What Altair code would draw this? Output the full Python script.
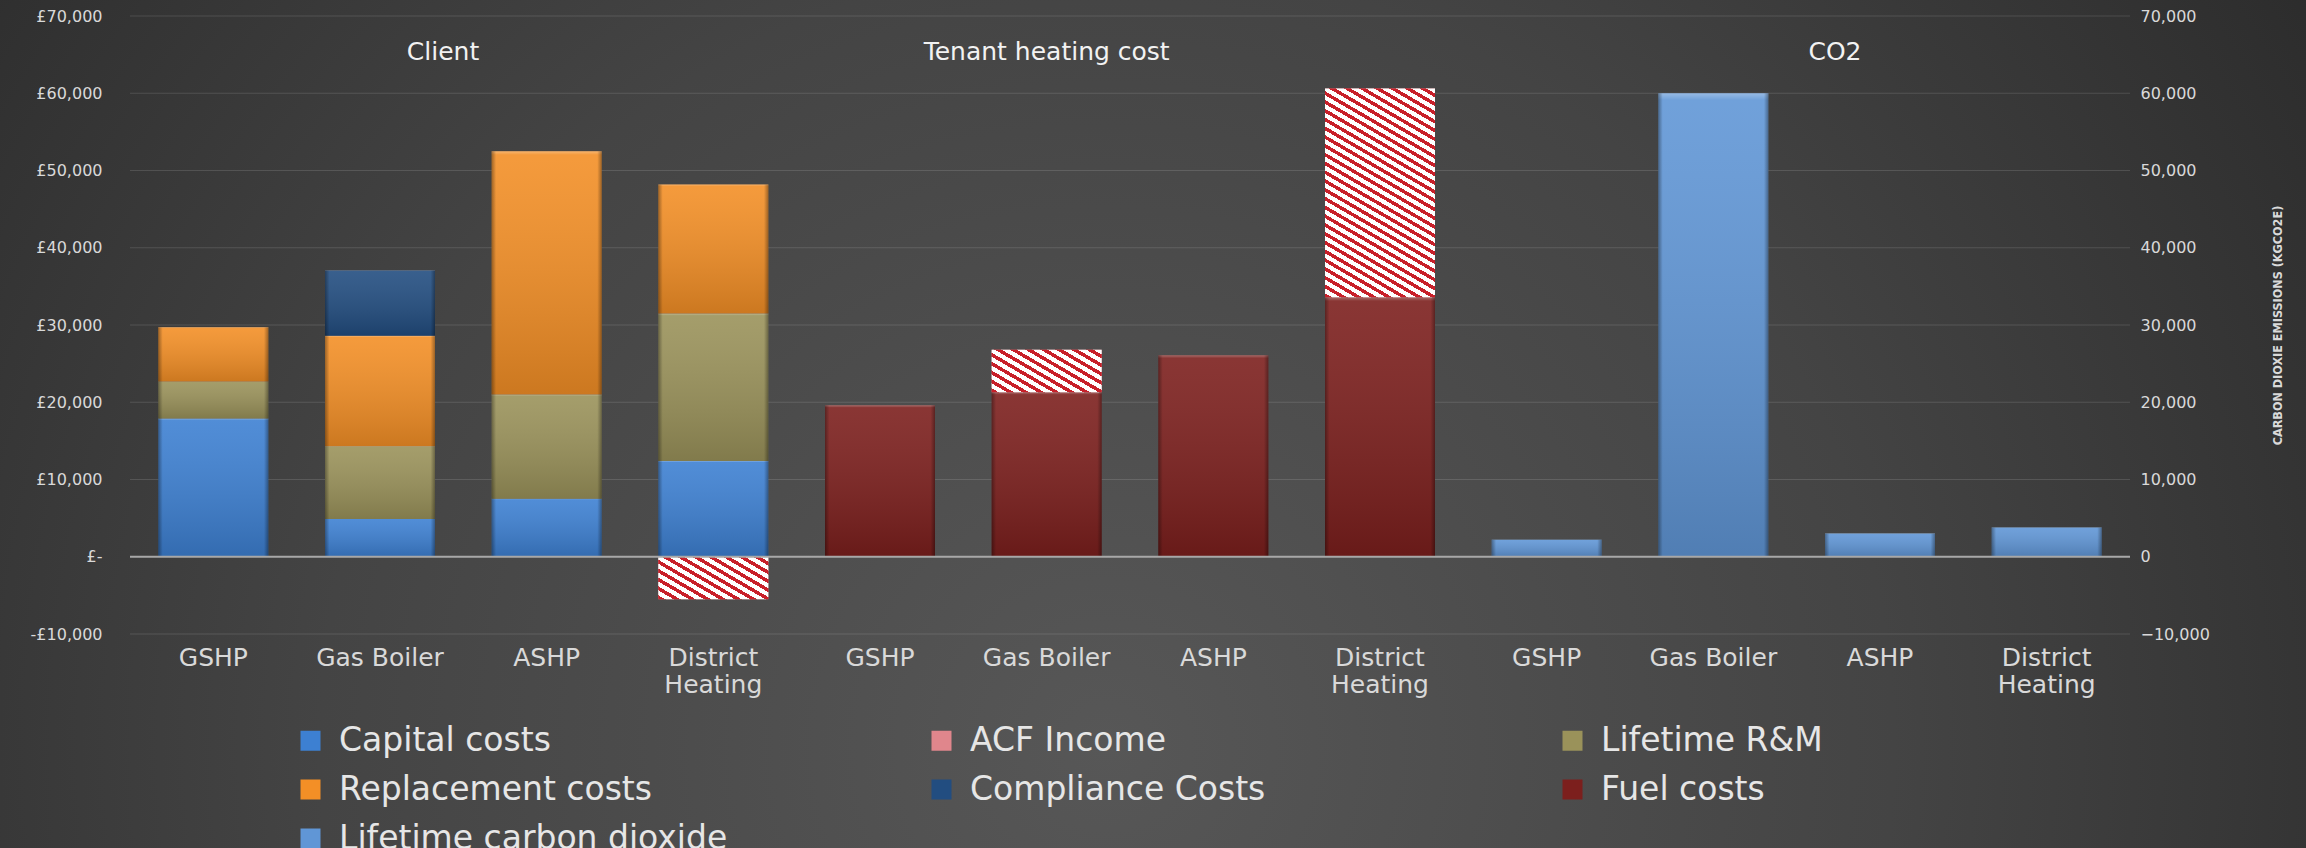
import math
import altair as alt
import pandas as pd

# ---------------- data ----------------
GROUPS = ["Client", "Tenant heating cost", "CO2"]
SYSTEMS = ["GSHP", "Gas Boiler", "ASHP", "District~Heating"]
SERIES = ["Capital costs", "ACF Income", "Lifetime R&M", "Replacement costs",
          "Compliance Costs", "Fuel costs", "Lifetime carbon dioxide"]
SERIES_COLORS = ["#3d80d2", "#e0868c", "#9a925a", "#f38f26",
                 "#224d80", "#7c1f1d", "#6096d6"]

capital_costs     = [17900, 4900, 7500, 12400, 0, 0, 0, 0, 0, 0, 0, 0]
lifetime_rm       = [4800, 9400, 13500, 19100, 0, 0, 0, 0, 0, 0, 0, 0]
replacement_costs = [7000, 14300, 31500, 16700, 0, 0, 0, 0, 0, 0, 0, 0]
compliance_costs  = [0, 8450, 0, 0, 0, 0, 0, 0, 0, 0, 0, 0]
fuel_costs        = [0, 0, 0, 0, 19600, 21300, 26100, 33600, 0, 0, 0, 0]
acf_income        = [0, 0, 0, -5500, 0, 5500, 0, 27000, 0, 0, 0, 0]
lifetime_co2      = [0, 0, 0, 0, 0, 0, 0, 0, 2200, 60000, 3000, 3800]

Y_TICKS = [-10000, 0, 10000, 20000, 30000, 40000, 50000, 60000, 70000]
Y_DOMAIN = [-10000, 70000]
RIGHT_TITLE = "CARBON DIOXIE EMISSIONS (KGCO2E)"

# ---------------- table built from the arrays ----------------
KEYS = [f"{g}|{s}" for g in GROUPS for s in SYSTEMS]
STACK_ORDER = [("Capital costs", capital_costs), ("Lifetime R&M", lifetime_rm),
               ("Replacement costs", replacement_costs),
               ("Compliance Costs", compliance_costs), ("Fuel costs", fuel_costs),
               ("ACF Income", acf_income), ("Lifetime carbon dioxide", lifetime_co2)]
rows = []
for i, k in enumerate(KEYS):
    pos, neg = 0, 0
    for name, arr in STACK_ORDER:
        v = arr[i]
        if v == 0:
            continue
        if v > 0:
            y0, y1 = pos, pos + v
            pos += v
        else:
            y0, y1 = neg, neg + v
            neg += v
        rows.append({"key": k, "series": name, "y0": y0, "y1": y1, "value": v})
df = pd.DataFrame(rows)
df_cost = df[df.series != "Lifetime carbon dioxide"]
df_co2 = df[df.series == "Lifetime carbon dioxide"]
df_solid = df[df.series != "ACF Income"]
df_acf = df[df.series == "ACF Income"]

# ---------------- layout / style ----------------
W, H = 2000, 618
PAD = {"left": 130, "top": 16, "right": 176, "bottom": 214}
P_INNER = 0.34
BAR_W = W / len(KEYS) * (1 - P_INNER)
PX_PER_UNIT = H / (Y_DOMAIN[1] - Y_DOMAIN[0])
FONT = "DejaVu Sans"
TXT = "#d9d9d9"

RED, WHITE = "#c8202a", "#ffffff"


def stripe_stops(n, red_frac=0.45):
    stops = []
    for c in range(n):
        a = c / n
        b = (c + red_frac) / n
        e = (c + 1) / n
        stops += [{"offset": a, "color": RED}, {"offset": b, "color": RED},
                  {"offset": b, "color": WHITE}, {"offset": e, "color": WHITE}]
    return stops


def stripe_gradient(w, h, period=7.5, slope=0.58):
    a, b = slope / h, -1.0 / w
    k = (a - b) / (a * a + b * b)
    vx, vy = k * a, k * b
    n2 = vx * vx + vy * vy
    gx, gy = vx / (w * n2), vy / (h * n2)
    n = max(1, round(1.0 / (period * math.hypot(gx, gy))))
    return {"gradient": "linear", "x1": 0, "y1": 1, "x2": vx, "y2": 1 + vy,
            "stops": stripe_stops(n)}


x_enc = alt.X("key:N", sort=KEYS, title=None,
              scale=alt.Scale(domain=KEYS, paddingInner=P_INNER, paddingOuter=P_INNER / 2),
              axis=alt.Axis(labelExpr="split(split(datum.value, '|')[1], '~')",
                            labelAngle=0, labelFont=FONT, labelFontSize=25,
                            labelColor=TXT, labelPadding=11, labelLineHeight=27,
                            domain=False, ticks=False, grid=False, zindex=1))
y_scale = alt.Scale(domain=Y_DOMAIN, nice=False, zero=False)

left_axis = alt.Axis(values=Y_TICKS, title=None, domain=False, ticks=False,
                     grid=False, zindex=1,
                     labelFont=FONT, labelFontSize=16, labelColor=TXT, labelPadding=28,
                     labelExpr="datum.value == 0 ? '£-\u00a0\u00a0' : (datum.value < 0 ? '-£' + format(-datum.value, ',') : '£' + format(datum.value, ','))")
right_axis = alt.Axis(orient="right", values=Y_TICKS, domain=False,
                      labelExpr="format(datum.value, ',')",
                      ticks=False, grid=False, zindex=1, labelFont=FONT, labelFontSize=16,
                      labelColor=TXT, labelPadding=10, title=RIGHT_TITLE,
                      titleFont="Liberation Sans Narrow, DejaVu Sans Condensed, sans-serif",
                      titleFontSize=12.5, titleFontWeight="bold", titleColor=TXT,
                      titleAngle=270, titleAlign="center", titleBaseline="middle",
                      titleX=147, titleY=H / 2)

legend = alt.Legend(title=None, orient="none", legendX=164, legendY=708, columns=3,
                    direction="horizontal", gridAlign="all", columnPadding=197,
                    rowPadding=15, symbolType="square", symbolSize=400,
                    symbolStrokeWidth=0, symbolOpacity=1, labelFont=FONT,
                    labelFontSize=33, labelColor="#e6e6e6", labelOffset=12,
                    labelLimit=900, padding=0, zindex=1)
color_enc = alt.Color("series:N", scale=alt.Scale(domain=SERIES, range=SERIES_COLORS),
                      legend=legend)

# background
bg_grad = alt.RadialGradient(gradient="radial", x1=0.48, y1=0.64, r1=0, x2=0.48, y2=0.64, r2=0.62,
                             stops=[alt.GradientStop(offset=0, color="#575757"),
                                    alt.GradientStop(offset=0.55, color="#444444"),
                                    alt.GradientStop(offset=1, color="#2c2c2c")])
background = alt.Chart(pd.DataFrame({"a": [0]})).mark_rect(fill=bg_grad).encode(
    x=alt.value(-PAD["left"]), x2=alt.value(W + PAD["right"]),
    y=alt.value(-PAD["top"]), y2=alt.value(H + PAD["bottom"]))

# gridlines from the tick values
grid = alt.Chart(pd.DataFrame({"v": [t for t in Y_TICKS if t != 0]})).mark_rule(
    color="#ffffff", opacity=0.13, strokeWidth=1).encode(
    y=alt.Y("v:Q", scale=y_scale, axis=None))

cost_bars = alt.Chart(df_cost).mark_bar(opacity=1).encode(
    x=x_enc, y=alt.Y("y0:Q", scale=y_scale, axis=left_axis), y2="y1", color=color_enc)
co2_bars = alt.Chart(df_co2).mark_bar(opacity=1).encode(
    x=x_enc, y=alt.Y("y0:Q", scale=y_scale, axis=right_axis), y2="y1", color=color_enc)

vgrad = alt.LinearGradient(gradient="linear", x1=0, y1=0, x2=0, y2=1,
                           stops=[alt.GradientStop(offset=0, color="rgba(255,255,255,0.35)"),
                                  alt.GradientStop(offset=0.015, color="rgba(255,255,255,0.10)"),
                                  alt.GradientStop(offset=1, color="rgba(0,0,0,0.16)")])
hgrad = alt.LinearGradient(gradient="linear", x1=0, y1=0, x2=1, y2=0,
                           stops=[alt.GradientStop(offset=0, color="rgba(0,0,0,0.35)"),
                                  alt.GradientStop(offset=0.04, color="rgba(0,0,0,0)"),
                                  alt.GradientStop(offset=0.96, color="rgba(0,0,0,0)"),
                                  alt.GradientStop(offset=1, color="rgba(0,0,0,0.35)")])
shade_v = alt.Chart(df_solid).mark_bar(fill=vgrad).encode(
    x=x_enc, y=alt.Y("y0:Q", scale=y_scale, axis=None), y2="y1")
shade_h = alt.Chart(df_solid).mark_bar(fill=hgrad).encode(
    x=x_enc, y=alt.Y("y0:Q", scale=y_scale, axis=None), y2="y1")

stripe_layers = []
for _, r in df_acf.iterrows():
    hpx = abs(r["value"]) * PX_PER_UNIT
    stripe_layers.append(
        alt.Chart(pd.DataFrame([r])).mark_bar(fill=stripe_gradient(BAR_W, hpx)).encode(
            x=x_enc, y=alt.Y("y0:Q", scale=y_scale, axis=None), y2="y1"))

zero_rule = alt.Chart(pd.DataFrame({"v": [0]})).mark_rule(color="#a8a8a8", strokeWidth=2).encode(
    y=alt.Y("v:Q", scale=y_scale, axis=None))

# panel titles anchored to categories
TITLE_ANCHORS = [("Client", KEYS[1], 63), ("Tenant heating cost", KEYS[5], 0), ("CO2", KEYS[10], -45)]
title_layers = []
for txt, anchor, dx in TITLE_ANCHORS:
    title_layers.append(
        alt.Chart(pd.DataFrame({"key": [anchor], "t": [txt]})).mark_text(
            font=FONT, fontSize=25, color="#f2f2f2", dx=dx, baseline="middle", align="center"
        ).encode(x=x_enc, y=alt.value(35.5), text="t:N"))

chart = alt.layer(background, grid, cost_bars, co2_bars, shade_v, shade_h, *stripe_layers,
                  zero_rule, *title_layers).resolve_scale(y="independent").properties(
    width=W, height=H, padding=PAD, autosize=alt.AutoSizeParams(type="none"),
    background="#333333").configure_view(stroke=None)

chart.save("out.html", embed_options={"renderer": "svg", "actions": False})
